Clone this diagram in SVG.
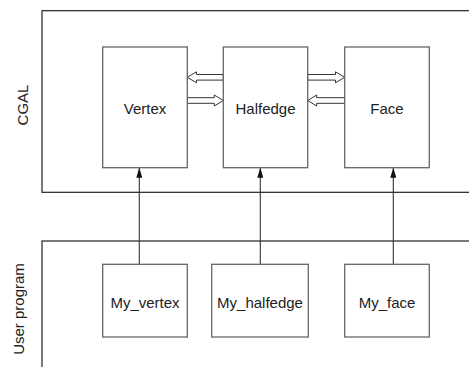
<svg xmlns="http://www.w3.org/2000/svg" width="469" height="367" viewBox="0 0 469 367">
<style>
.bg{fill:#fff}
.frame{fill:none;stroke:#222;stroke-width:1.2}
.box{fill:#fff;stroke:#666;stroke-width:1.3}
.lbl{font-family:"Liberation Sans",Arial,sans-serif;font-size:15px;fill:#222;text-anchor:middle;dominant-baseline:central}
.con{fill:none;stroke:#333;stroke-width:1.1}
.hol{fill:#fff;stroke:#333;stroke-width:1}
</style>
<defs>
<marker id="ah" viewBox="0 0 10 6" refX="10" refY="3" markerWidth="10" markerHeight="6" markerUnits="userSpaceOnUse" orient="auto">
<path d="M0,0 L10,3 L0,6 Z" fill="#111"/>
</marker>
</defs>
<rect class="bg" width="469" height="367"/>
<g id="cgal">
<rect class="frame" x="42" y="10.7" width="460" height="181.6"/>
<text class="lbl" transform="translate(22.5,105) rotate(-90)">CGAL</text>
</g>
<g id="user">
<rect class="frame" x="42" y="241" width="460" height="160"/>
<text class="lbl" transform="translate(18.5,309) rotate(-90)">User program</text>
</g>
<g id="connectors">
<line class="con" x1="139.3" y1="264.3" x2="139.3" y2="167.7" marker-end="url(#ah)"/>
<line class="con" x1="260.3" y1="264.3" x2="260.3" y2="167.7" marker-end="url(#ah)"/>
<line class="con" x1="393.3" y1="264.3" x2="393.3" y2="167.7" marker-end="url(#ah)"/>
<path class="hol" d="M223.3,74.5 L196.5,74.5 L196.5,71.8 L187.3,77.3 L196.5,82.8 L196.5,80.1 L223.3,80.1 Z"/>
<path class="hol" d="M187.3,97.7 L214.3,97.7 L214.3,95 L223.3,100.5 L214.3,106 L214.3,103.3 L187.3,103.3 Z"/>
<path class="hol" d="M307.7,74.5 L335.5,74.5 L335.5,71.8 L344.7,77.3 L335.5,82.8 L335.5,80.1 L307.7,80.1 Z"/>
<path class="hol" d="M344.7,97.7 L316.7,97.7 L316.7,95 L307.7,100.5 L316.7,106 L316.7,103.3 L344.7,103.3 Z"/>
</g>
<g id="vertex">
<rect class="box" x="102.7" y="47" width="84.6" height="120.7"/>
<text class="lbl" x="145" y="108">Vertex</text>
</g>
<g id="halfedge">
<rect class="box" x="223.3" y="47" width="84.4" height="120.7"/>
<text class="lbl" x="265.5" y="108">Halfedge</text>
</g>
<g id="face">
<rect class="box" x="344.7" y="47" width="84.6" height="120.7"/>
<text class="lbl" x="387" y="108">Face</text>
</g>
<g id="my_vertex">
<rect class="box" x="102.7" y="264.3" width="84.6" height="72.7"/>
<text class="lbl" x="145" y="302">My_vertex</text>
</g>
<g id="my_halfedge">
<rect class="box" x="211.7" y="264.3" width="96.6" height="72.7"/>
<text class="lbl" x="260" y="302">My_halfedge</text>
</g>
<g id="my_face">
<rect class="box" x="344.7" y="264.3" width="84.6" height="72.7"/>
<text class="lbl" x="387" y="302">My_face</text>
</g>
</svg>
